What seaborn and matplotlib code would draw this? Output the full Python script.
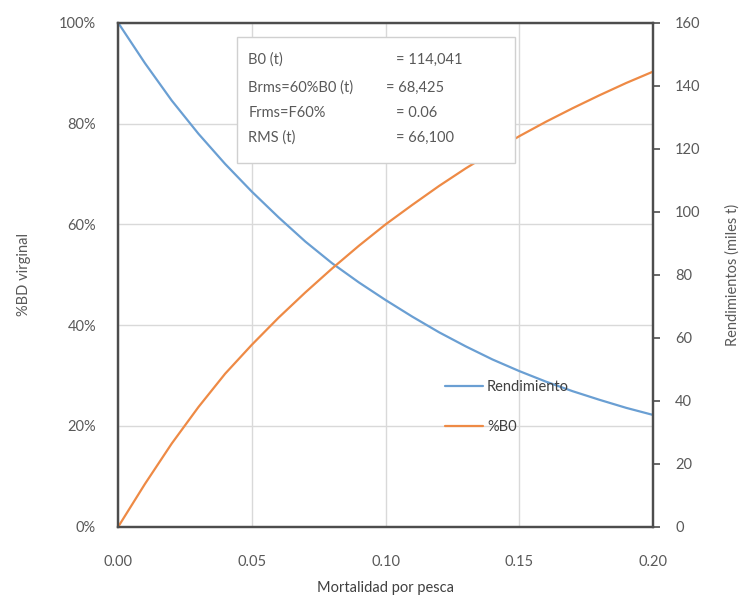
import matplotlib
matplotlib.use("Agg")
import matplotlib.pyplot as plt
import matplotlib.ticker as mticker
from matplotlib.patches import Rectangle
import seaborn as sns
import pandas as pd

# ---- data ----
mortalidad = [0.00, 0.01, 0.02, 0.03, 0.04, 0.05, 0.06, 0.07, 0.08, 0.09, 0.10,
              0.11, 0.12, 0.13, 0.14, 0.15, 0.16, 0.17, 0.18, 0.19, 0.20]
rendimiento_pct = [1.000, 0.920, 0.846, 0.780, 0.720, 0.665, 0.614, 0.566, 0.523, 0.485, 0.450,
                   0.417, 0.386, 0.358, 0.332, 0.309, 0.288, 0.269, 0.252, 0.236, 0.222]
b0_miles_t = [0.0, 13.6, 26.4, 38.0, 48.6, 57.8, 66.4, 74.4, 82.0, 89.2, 96.0,
              102.2, 108.2, 113.8, 119.0, 124.0, 128.6, 132.9, 137.0, 140.9, 144.5]
x_ticks = [0.00, 0.05, 0.10, 0.15, 0.20]
left_ticks = [0.0, 0.2, 0.4, 0.6, 0.8, 1.0]
right_ticks = [0, 20, 40, 60, 80, 100, 120, 140, 160]
box_labels = ["B0 (t)", "Brms=60%B0 (t)", "Frms=F60%", "RMS (t)"]
box_values = ["= 114,041", "= 68,425", "= 0.06", "= 66,100"]

df = pd.DataFrame({"F": mortalidad, "Rendimiento": rendimiento_pct, "B0": b0_miles_t})

sns.set_theme(style="white")
plt.rcParams["font.family"] = ["Lato", "DejaVu Sans"]

TXT = "#595959"
SPINE = "#4D4D4D"
BLUE = "#6A9FD3"
ORANGE = "#EE8A45"

fig = plt.figure(figsize=(7.53, 6.02), dpi=100)
ax = fig.add_axes([0.157, 0.125, 0.710, 0.837])
ax2 = ax.twinx()

sns.lineplot(data=df, x="F", y="Rendimiento", ax=ax, color=BLUE, lw=1.6,
             label="Rendimiento", legend=False)
sns.lineplot(data=df, x="F", y="B0", ax=ax2, color=ORANGE, lw=1.6,
             label="%B0", legend=False)

ax.set_xlim(0, 0.20)
ax.set_ylim(0, 1.0)
ax2.set_ylim(0, 160)
ax.set_xticks(x_ticks)
ax.set_yticks(left_ticks)
ax2.set_yticks(right_ticks)
ax.xaxis.set_major_formatter(mticker.FuncFormatter(lambda v, p: f"{v:.2f}"))
ax.yaxis.set_major_formatter(mticker.FuncFormatter(lambda v, p: f"{v*100:.0f}%"))

ax.grid(True, color="#D9D9D9", lw=1.0)
ax.set_axisbelow(True)

for a in (ax, ax2):
    for s in a.spines.values():
        s.set_color(SPINE)
        s.set_linewidth(1.6)

ax.tick_params(axis="x", length=0, pad=20, labelsize=10.5, labelcolor=TXT)
ax.tick_params(axis="y", length=0, pad=16, labelsize=10.5, labelcolor=TXT)
ax2.tick_params(axis="y", direction="out", length=5, width=1.2, color=SPINE,
                pad=11, labelsize=10.5, labelcolor=TXT)

ax.set_xlabel("Mortalidad por pesca", fontsize=10.5, color="#404040", labelpad=9)
ax.set_ylabel("%BD virginal", fontsize=10.5, color=TXT, labelpad=20)
ax2.set_ylabel("Rendimientos (miles t)", fontsize=10.5, color=TXT, labelpad=18)

# info box
ax2.add_patch(Rectangle((0.223, 0.722), 0.520, 0.250, transform=ax.transAxes,
                        facecolor="white", edgecolor="#D0D0D0", lw=1.0, zorder=10))
ys = [0.927, 0.871, 0.821, 0.772]
xs_val = [0.519, 0.500, 0.519, 0.519]
for lab, val, y, xv in zip(box_labels, box_values, ys, xs_val):
    ax2.text(0.243, y, lab, transform=ax.transAxes, fontsize=10.5, color=TXT,
             va="center", ha="left", zorder=11)
    ax2.text(xv, y, val, transform=ax.transAxes, fontsize=10.5, color=TXT,
             va="center", ha="left", zorder=11)

h1, lab1 = ax.get_legend_handles_labels()
h2, lab2 = ax2.get_legend_handles_labels()
leg = ax2.legend(h1 + h2, lab1 + lab2, loc="center left", bbox_to_anchor=(0.60, 0.237),
                 bbox_transform=ax.transAxes, frameon=False, fontsize=10.5,
                 handlelength=2.6, handletextpad=0.3, labelspacing=1.8, borderaxespad=0)
for t in leg.get_texts():
    t.set_color("#404040")

fig.savefig("out.png", dpi=100)
